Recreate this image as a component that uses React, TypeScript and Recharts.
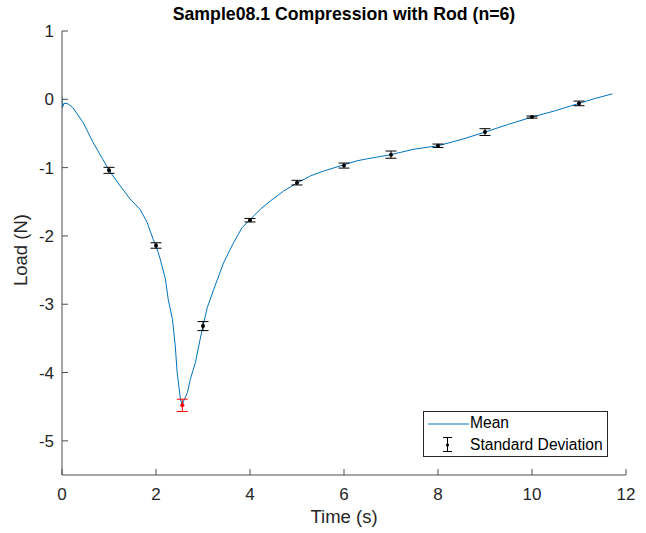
import { ComposedChart, Line, Scatter, ErrorBar, XAxis, YAxis } from 'recharts';

// mean load curve (time in s, load in N)
const meanT = [0, 0.01, 0.04, 0.11, 0.23, 0.45, 0.66, 0.87, 1.0, 1.24, 1.45, 1.66, 1.81, 1.94, 2.0, 2.09, 2.2, 2.26, 2.35, 2.41, 2.45, 2.52, 2.56, 2.58, 2.67, 2.73, 2.84, 2.94, 3.0, 3.09, 3.23, 3.44, 3.65, 3.83, 3.99, 4.22, 4.43, 4.72, 4.99, 5.29, 5.57, 5.99, 6.28, 6.5, 7.0, 7.49, 8.0, 8.49, 9.0, 9.48, 10.0, 10.48, 11.0, 11.33, 11.71];
const meanLoad = [0.04, -0.12, -0.06, -0.06, -0.12, -0.34, -0.63, -0.88, -1.04, -1.27, -1.46, -1.61, -1.8, -2.05, -2.14, -2.34, -2.63, -2.93, -3.22, -3.61, -4.0, -4.39, -4.49, -4.43, -4.29, -4.1, -3.85, -3.51, -3.32, -3.05, -2.78, -2.39, -2.1, -1.88, -1.77, -1.61, -1.49, -1.34, -1.23, -1.12, -1.05, -0.96, -0.9, -0.87, -0.81, -0.73, -0.68, -0.59, -0.48, -0.37, -0.26, -0.17, -0.06, 0.01, 0.08];

// standard deviation markers
const sdT = [1, 2, 3, 4, 5, 6, 7, 8, 9, 10, 11];
const sdMean = [-1.04, -2.14, -3.32, -1.77, -1.22, -0.97, -0.81, -0.68, -0.48, -0.26, -0.06];
const sdDev = [0.044, 0.04, 0.066, 0.026, 0.034, 0.037, 0.053, 0.025, 0.05, 0.015, 0.034];

// peak marker (red)
const peakT = [2.56];
const peakMean = [-4.48];
const peakDev = [0.09];

const xTicks = [0, 2, 4, 6, 8, 10, 12];
const yTicks = [-5, -4, -3, -2, -1, 0, 1];

const meanData = meanT.map((t, i) => ({ x: t, y: meanLoad[i] }));
const sdData = sdT.map((t, i) => ({ x: t, y: sdMean[i], err: sdDev[i] }));
const peakData = peakT.map((t, i) => ({ x: t, y: peakMean[i], err: peakDev[i] }));

const FONT = '"Liberation Sans", Arial, Helvetica, sans-serif';
const AXIS = '#4d4d4d';
const TEXT = '#262626';

const YTick = (props: any) => {
  const { x, y, payload } = props;
  return (
    <g>
      <line x1={x} y1={y} x2={x + 6} y2={y} stroke={AXIS} />
      <text x={x - 8} y={y + 6} textAnchor="end" fontSize={17} fill={TEXT} fontFamily={FONT}>
        {payload.value}
      </text>
    </g>
  );
};

const XTick = (props: any) => {
  const { x, y, payload } = props;
  return (
    <g>
      <line x1={x} y1={y} x2={x} y2={y - 6} stroke={AXIS} />
      <text x={x} y={y + 25} textAnchor="middle" fontSize={17} fill={TEXT} fontFamily={FONT}>
        {payload.value}
      </text>
    </g>
  );
};

const Dot = (props: any) => <circle cx={props.cx} cy={props.cy} r={2} fill={props.fill} />;

export default function App() {
  return (
    <div style={{ position: 'absolute', left: 0, top: 0, width: 646, height: 533, background: '#fff', fontFamily: FONT }}>
      <ComposedChart width={646} height={533} margin={{ top: 31, right: 20, bottom: 0, left: 0 }}>
        <XAxis
          type="number"
          dataKey="x"
          domain={[0, 12]}
          ticks={xTicks}
          height={58}
          tickSize={0}
          tickMargin={0}
          tickLine={false}
          stroke={AXIS}
          tick={<XTick />}
          allowDataOverflow
        />
        <YAxis
          type="number"
          dataKey="y"
          domain={[-5.5, 1]}
          ticks={yTicks}
          width={62}
          tickSize={0}
          tickMargin={0}
          tickLine={false}
          stroke={AXIS}
          tick={<YTick />}
          allowDataOverflow
        />
        <Line
          data={meanData}
          dataKey="y"
          type="linear"
          stroke="#0072BD"
          strokeWidth={1}
          dot={false}
          isAnimationActive={false}
        />
        <Scatter data={sdData} dataKey="y" fill="#000" shape={<Dot />} isAnimationActive={false}>
          <ErrorBar dataKey="err" direction="y" width={5.5} stroke="#000" strokeWidth={1} isAnimationActive={false} />
        </Scatter>
        <Scatter data={peakData} dataKey="y" fill="#ff0000" shape={<Dot />} isAnimationActive={false}>
          <ErrorBar dataKey="err" direction="y" width={5.5} stroke="#ff0000" strokeWidth={1} isAnimationActive={false} />
        </Scatter>
      </ComposedChart>

      <div style={{ position: 'absolute', left: 0, width: 688, top: 4, textAlign: 'center', fontSize: 17.7, fontWeight: 'bold', color: '#000', whiteSpace: 'nowrap' }}>
        Sample08.1 Compression with Rod (n=6)
      </div>
      <div style={{ position: 'absolute', left: 0, width: 688, top: 506, textAlign: 'center', fontSize: 18.5, color: TEXT }}>
        Time (s)
      </div>
      <div
        style={{
          position: 'absolute',
          left: 21,
          top: 250,
          transform: 'translate(-50%, -50%) rotate(-90deg)',
          fontSize: 18.5,
          color: TEXT,
          whiteSpace: 'nowrap',
        }}
      >
        Load (N)
      </div>

      {/* legend */}
      <div
        style={{
          position: 'absolute',
          left: 423,
          top: 411,
          width: 185,
          height: 46,
          border: '1px solid #262626',
          boxSizing: 'border-box',
          background: '#fff',
          fontSize: 15.6,
          color: '#000',
        }}
      >
        <svg width={44} height={44} style={{ position: 'absolute', left: 3, top: 0 }}>
          <line x1={1} y1={12} x2={42} y2={12} stroke="#0072BD" strokeWidth={1} />
          <line x1={20.5} y1={25} x2={20.5} y2={40} stroke="#000" />
          <line x1={16} y1={25.5} x2={25} y2={25.5} stroke="#000" />
          <line x1={16} y1={39.5} x2={25} y2={39.5} stroke="#000" />
          <circle cx={20.5} cy={33} r={1.6} fill="#000" />
        </svg>
        <div style={{ position: 'absolute', left: 46, top: 2 }}>Mean</div>
        <div style={{ position: 'absolute', left: 46, top: 24, whiteSpace: 'nowrap' }}>Standard Deviation</div>
      </div>
    </div>
  );
}
